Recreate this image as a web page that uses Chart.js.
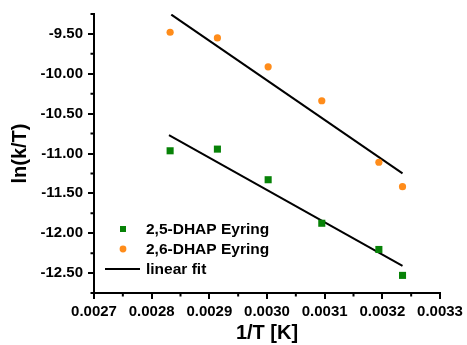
<!DOCTYPE html>
<html>
<head>
<meta charset="utf-8">
<script src="https://cdn.jsdelivr.net/npm/chart.js@4/dist/chart.umd.min.js"></script>
<style>
  html, body { margin: 0; padding: 0; background: #fff; }
  #c { display: block; }
</style>
</head>
<body>
<canvas id="c" width="467" height="345"></canvas>
<script>
// ---- data ----
const invT = [0.002832, 0.002914, 0.003002, 0.003095, 0.003194, 0.003235];
const dhap25 = [-10.966, -10.945, -11.329, -11.875, -12.204, -12.529];
const dhap26 = [-9.479, -9.55, -9.913, -10.338, -11.11, -11.416];
const fit25X = [0.00283, 0.003235];
const fit25Y = [-10.77, -12.41];
const fit26X = [0.002834, 0.003235];
const fit26Y = [-9.257, -11.25];
const xTicks = [0.0027, 0.0028, 0.0029, 0.0030, 0.0031, 0.0032, 0.0033];
const yTicks = [-12.5, -12.0, -11.5, -11.0, -10.5, -10.0, -9.5];
const xMinor = [0.00275, 0.00285, 0.00295, 0.00305, 0.00315, 0.00325];
const yMinor = [-12.75, -12.25, -11.75, -11.25, -10.75, -10.25, -9.75, -9.25];
const seriesNames = ['2,5-DHAP Eyring', '2,6-DHAP Eyring', 'linear fit'];

const GREEN = '#078207';
const ORANGE = '#ff8c1a';
const FONT = '"Liberation Sans", Arial, sans-serif';

const pts = (xs, ys) => xs.map((x, i) => ({ x: x, y: ys[i] }));

const minorTicks = {
  id: 'minorTicks',
  afterDraw(chart) {
    const ctx = chart.ctx;
    const xs = chart.scales.x, ys = chart.scales.y;
    const a = chart.chartArea;
    ctx.save();
    ctx.strokeStyle = '#000';
    ctx.lineWidth = 2;
    ctx.beginPath();
    yMinor.forEach(v => {
      const p = ys.getPixelForValue(v);
      ctx.moveTo(a.left - 3.5, p); ctx.lineTo(a.left, p);
    });
    xMinor.forEach(v => {
      const p = xs.getPixelForValue(v);
      ctx.moveTo(p, a.bottom); ctx.lineTo(p, a.bottom + 3.5);
    });
    ctx.stroke();
    ctx.restore();
  }
};

const insideLegend = {
  id: 'insideLegend',
  afterDraw(chart) {
    const ctx = chart.ctx;
    const a = chart.chartArea;
    const ds = chart.data.datasets;
    const mx = a.left + 29, tx = a.left + 52;
    let y = a.bottom - 64;
    ctx.save();
    ctx.font = 'bold 15.5px ' + FONT;
    ctx.textBaseline = 'middle';
    ctx.fillStyle = '#000';
    seriesNames.forEach((name, i) => {
      const d = ds[i];
      if (d.pointStyle === 'rect') {
        ctx.fillStyle = d.backgroundColor;
        ctx.fillRect(mx - 3, y - 3, 6, 6);
      } else if (d.pointStyle === 'circle') {
        ctx.fillStyle = d.backgroundColor;
        ctx.beginPath(); ctx.arc(mx, y, 3.4, 0, Math.PI * 2); ctx.fill();
      } else {
        ctx.strokeStyle = d.borderColor;
        ctx.lineWidth = 2;
        ctx.beginPath(); ctx.moveTo(mx - 18, y); ctx.lineTo(mx + 17, y); ctx.stroke();
      }
      ctx.fillStyle = '#000';
      ctx.fillText(name, tx, y + 0.5);
      y += 20;
    });
    ctx.restore();
  }
};

new Chart(document.getElementById('c'), {
  type: 'scatter',
  data: {
    datasets: [
      { label: seriesNames[0], data: pts(invT, dhap25), pointStyle: 'rect', pointRadius: 5,
        backgroundColor: GREEN, borderColor: GREEN, borderWidth: 0 },
      { label: seriesNames[1], data: pts(invT, dhap26), pointStyle: 'circle', pointRadius: 3.6,
        backgroundColor: ORANGE, borderColor: ORANGE, borderWidth: 0 },
      { label: seriesNames[2], data: pts(fit25X, fit25Y), showLine: true, pointRadius: 0,
        borderColor: '#000', borderWidth: 2, pointStyle: false },
      { label: seriesNames[2], data: pts(fit26X, fit26Y), showLine: true, pointRadius: 0,
        borderColor: '#000', borderWidth: 2, pointStyle: false }
    ]
  },
  options: {
    responsive: false,
    devicePixelRatio: 1,
    animation: false,
    layout: { padding: { top: 13, right: 27, left: 0, bottom: 0 } },
    plugins: { legend: { display: false }, tooltip: { enabled: false } },
    scales: {
      x: {
        type: 'linear', min: 0.0027, max: 0.0033,
        afterBuildTicks: s => { s.ticks = xTicks.map(v => ({ value: v })); },
        afterFit: s => { s.height = 52; },
        ticks: { color: '#000', padding: 4, font: { family: FONT, size: 15, weight: 'bold' },
                 callback: v => Number(v).toFixed(4), maxRotation: 0, autoSkip: false },
        grid: { drawOnChartArea: false, tickLength: 6, color: '#000', lineWidth: 2 },
        border: { display: true, color: '#000', width: 2 },
        title: { display: true, text: '1/T [K]', color: '#000', padding: { top: 0, bottom: 0 },
                 font: { family: FONT, size: 20, weight: 'bold' } }
      },
      y: {
        type: 'linear', min: -12.75, max: -9.25,
        afterBuildTicks: s => { s.ticks = yTicks.map(v => ({ value: v })); },
        afterFit: s => { s.width = 94; },
        ticks: { color: '#000', padding: 5, font: { family: FONT, size: 15, weight: 'bold' },
                 callback: v => Number(v).toFixed(2), autoSkip: false },
        grid: { drawOnChartArea: false, tickLength: 6, color: '#000', lineWidth: 2 },
        border: { display: true, color: '#000', width: 2 },
        title: { display: true, text: 'ln(k/T)', color: '#000', padding: { top: 8, bottom: 0 },
                 font: { family: FONT, size: 20, weight: 'bold' } }
      }
    }
  },
  plugins: [minorTicks, insideLegend]
});
</script>
</body>
</html>
